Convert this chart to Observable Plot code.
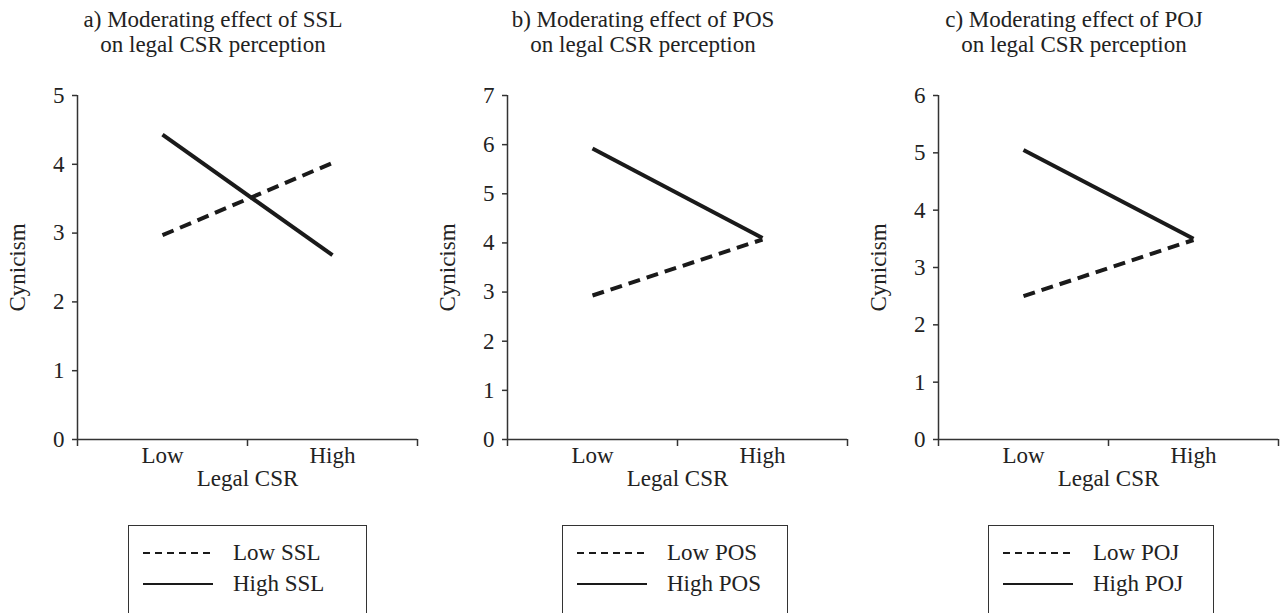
<!DOCTYPE html>
<html>
<head>
<meta charset="utf-8">
<script src="https://cdn.jsdelivr.net/npm/d3@7"></script>
<script src="https://cdn.jsdelivr.net/npm/@observablehq/plot@0.6"></script>
<style>
  html, body { margin: 0; padding: 0; background: #fff; overflow: hidden; }
  body { width: 1282px; height: 613px; position: relative; font-family: "Liberation Serif", "Times New Roman", serif; color: #222; }
  .title { position: absolute; width: 420px; text-align: center; font-size: 23px; line-height: 25px; top: 7px; }
  .panel { position: absolute; top: 60px; }
  .panel svg { display: block; max-width: none !important; }
  .legend { position: absolute; top: 525px; height: 130px; border: 1.5px solid #333; box-sizing: border-box; }
  .row { position: absolute; left: 0; font-size: 23px; line-height: 24px; height: 24px; }
  .row svg { position: absolute; top: 0; }
  .row span { position: absolute; white-space: nowrap; }
</style>
</head>
<body>
<script>
// ---- data ----
const categories = ["Low", "High"];
const titles = [
  ["a) Moderating effect of SSL", "on legal CSR perception"],
  ["b) Moderating effect of POS", "on legal CSR perception"],
  ["c) Moderating effect of POJ", "on legal CSR perception"]
];
const moderators = ["SSL", "POS", "POJ"];
const yMax = [5, 7, 6];
const sslLow = [2.97, 4.02];
const sslHigh = [4.43, 2.68];
const posLow = [2.93, 4.07];
const posHigh = [5.92, 4.10];
const pojLow = [2.50, 3.48];
const pojHigh = [5.05, 3.50];
const lowSeries = [sslLow, posLow, pojLow];
const highSeries = [sslHigh, posHigh, pojHigh];

// ---- layout ----
const axisX = [77, 507, 938];
const legendLeft = [128, 562, 988];
const legendWidth = [239, 226, 226];
const ML = 75, MR = 4, MT = 35, MB = 50, AXLEN = 340;
const ink = "#1a1a1a";

function makePanel(k) {
  const toRows = (vals, g) => categories.map((c, i) => ({cat: c, pos: i + 0.5, v: vals[i], g}));
  const low = toRows(lowSeries[k], "Low");
  const high = toRows(highSeries[k], "High");
  return Plot.plot({
    width: ML + AXLEN + MR,
    height: MT + 344 + MB,
    marginLeft: ML, marginRight: MR, marginTop: MT, marginBottom: MB,
    style: {fontFamily: "'Liberation Serif', 'Times New Roman', serif", fontSize: "23px", color: "#222", background: "transparent", overflow: "visible", maxWidth: "none"},
    x: {domain: [0, categories.length]},
    y: {domain: [0, yMax[k]]},
    marks: [
      Plot.axisY({ticks: d3.range(0, yMax[k] + 1), tickFormat: "d", tickSize: 5, tickPadding: 8, label: null, strokeWidth: 1.5, stroke: "#333"}),
      Plot.axisX({ticks: d3.range(0, categories.length + 1), tickFormat: () => "", tickSize: 7, label: null, strokeWidth: 1.5, stroke: "#333"}),
      Plot.axisX({ticks: categories.map((c, i) => i + 0.5), tickFormat: d => categories[Math.round(d - 0.5)], tickSize: 0, tickPadding: 7, label: null}),
      Plot.ruleY([0], {stroke: "#333", strokeWidth: 1.5}),
      Plot.ruleX([0], {stroke: "#333", strokeWidth: 1.5}),
      Plot.line(low, {x: "pos", y: "v", stroke: ink, strokeWidth: 4, strokeDasharray: "12,7", strokeLinecap: "butt"}),
      Plot.line(high, {x: "pos", y: "v", stroke: ink, strokeWidth: 4, strokeLinecap: "butt"}),
      Plot.text(["Legal CSR"], {frameAnchor: "bottom", dy: 39, lineAnchor: "middle", fontSize: 23, fill: "#222"}),
      Plot.text(["Cynicism"], {frameAnchor: "left", dx: -60, rotate: -90, textAnchor: "middle", lineAnchor: "middle", fontSize: 23, fill: "#222"})
    ]
  });
}

for (let k = 0; k < 3; k++) {
  const t = document.createElement("div");
  t.className = "title";
  t.style.left = (axisX[k] + 136 - 210) + "px";
  t.innerHTML = titles[k][0] + "<br>" + titles[k][1];
  document.body.appendChild(t);

  const p = document.createElement("div");
  p.className = "panel";
  p.style.left = (axisX[k] - ML) + "px";
  p.style.width = (ML + AXLEN + MR) + "px";
  p.appendChild(makePanel(k));
  document.body.appendChild(p);

  const lg = document.createElement("div");
  lg.className = "legend";
  lg.style.left = legendLeft[k] + "px";
  lg.style.width = legendWidth[k] + "px";
  [["Low " + moderators[k], "7,5"], ["High " + moderators[k], null]].forEach(([label, dash], r) => {
    const row = document.createElement("div");
    row.className = "row";
    row.style.top = (15 + r * 31) + "px";
    row.style.width = "220px";
    row.innerHTML = `<svg width="90" height="24" style="left:14px"><line x1="0" x2="70" y1="12" y2="12" stroke="${ink}" stroke-width="2.2" ${dash ? `stroke-dasharray="${dash}"` : ""}/></svg><span style="left:104px">${label}</span>`;
    lg.appendChild(row);
  });
  document.body.appendChild(lg);
}
</script>
</body>
</html>
